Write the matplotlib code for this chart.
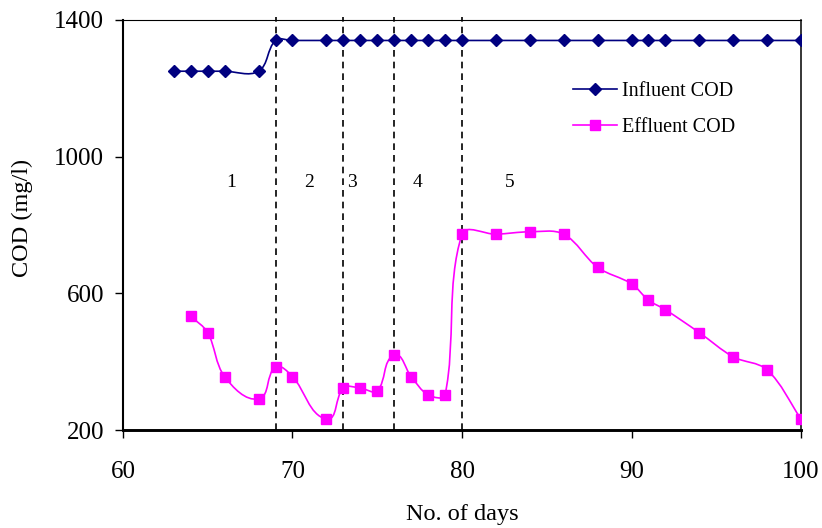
import matplotlib
matplotlib.use("Agg")
import matplotlib.pyplot as plt
import numpy as np
from matplotlib.path import Path
from matplotlib.patches import PathPatch
from matplotlib.lines import Line2D

plt.rcParams["font.family"] = ["Liberation Serif", "DejaVu Serif"]

# influent COD (mg/l) by day
influent_days = [63, 64, 65, 66, 68, 69, 70, 72, 73, 74, 75, 76, 77, 78, 79, 80,
                 82, 84, 86, 88, 90, 91, 92, 94, 96, 98, 100]
influent_cod = [1250, 1250, 1250, 1250, 1250, 1340, 1340, 1340, 1340, 1340, 1340,
                1340, 1340, 1340, 1340, 1340, 1340, 1340, 1340, 1340, 1340, 1340,
                1340, 1340, 1340, 1340, 1340]

# effluent COD (mg/l) by day
effluent_days = [64, 65, 66, 68, 69, 70, 72, 73, 74, 75, 76, 77, 78, 79, 80,
                 82, 84, 86, 88, 90, 91, 92, 94, 96, 98, 100]
effluent_cod = [533, 485, 356, 291, 384, 356, 232, 323, 323, 315, 419, 356, 303, 303,
                773, 773, 780, 773, 676, 628, 580, 552, 485, 414, 376, 232]

# phase boundaries and phase labels
phase_bounds = [69, 73, 76, 80]
phase_labels = ["1", "2", "3", "4", "5"]
phase_label_x = [66.4, 71.0, 73.5, 77.4, 82.8]
phase_label_y = 925


def smooth_path(ax, xs, ys):
    """Excel-like smoothed line, built in pixel space as cubic Beziers."""
    pts = ax.transData.transform(np.column_stack([xs, ys]).astype(float))
    n = len(pts)
    verts = [pts[0]]
    codes = [Path.MOVETO]
    tangents = []
    for i in range(n):
        p0 = pts[i - 1] if i > 0 else pts[i]
        p2 = pts[i + 1] if i + 1 < n else pts[i]
        d = p2 - p0
        tangents.append(d / np.hypot(*d))
    for i in range(n - 1):
        p1, p2 = pts[i], pts[i + 1]
        seg = np.hypot(*(p2 - p1)) / 3.0
        verts += [p1 + tangents[i] * seg, p2 - tangents[i + 1] * seg, p2]
        codes += [Path.CURVE4] * 3
    data = ax.transData.inverted().transform(np.array(verts))
    return Path(data, codes)


fig = plt.figure(figsize=(8.22, 5.28), dpi=100)
ax = fig.add_axes([0.1496, 0.1856, 0.8249, 0.7766])
ax.set_xlim(60, 100)
ax.set_ylim(200, 1400)

navy = "#000080"
magenta = "#FF00FF"

ax.add_patch(PathPatch(smooth_path(ax, influent_days, influent_cod), fill=False,
                       edgecolor=navy, lw=1.2, zorder=3))
ax.plot(influent_days, influent_cod, ls="none", marker="D", ms=6.2,
        color=navy, zorder=4)

ax.add_patch(PathPatch(smooth_path(ax, effluent_days, effluent_cod), fill=False,
                       edgecolor=magenta, lw=1.2, zorder=3))
ax.plot(effluent_days, effluent_cod, ls="none", marker="s", ms=6.8,
        color=magenta, zorder=4)

ax.vlines(phase_bounds, 200, 1410, colors="black", linestyles=(0, (4, 3)),
          lw=1.2, clip_on=False, zorder=2)

for lx, lab in zip(phase_label_x, phase_labels):
    ax.text(lx, phase_label_y, lab, ha="center", va="center", fontsize=14)

ax.set_xticks([60, 70, 80, 90, 100])
ax.set_yticks([200, 600, 1000, 1400])

ax.tick_params(axis="both", direction="out", length=5.5, width=1.0,
               labelsize=18, top=False, right=False)
ax.tick_params(axis="x", pad=17)
ax.tick_params(axis="y", pad=8)

ax.spines["left"].set_linewidth(1.5)
ax.spines["bottom"].set_linewidth(2.1)
ax.spines["top"].set_linewidth(0.8)
ax.spines["right"].set_linewidth(1.1)

ax.set_xlabel("No. of days", fontsize=17.5, labelpad=15)
ax.set_ylabel("COD (mg/l)", fontsize=17.5)
ax.yaxis.set_label_coords(-0.133, 0.517)

handles = [
    Line2D([], [], color=navy, lw=1.2, marker="D", ms=6.2),
    Line2D([], [], color=magenta, lw=1.2, marker="s", ms=6.8),
]
ax.legend(handles, ["Influent COD", "Effluent COD"], loc="center left",
          bbox_to_anchor=(0.6637, 0.781), frameon=False, fontsize=14.5,
          borderpad=0, borderaxespad=0, handlelength=2.2, handletextpad=0.25,
          labelspacing=0.85)

fig.savefig("out.png", dpi=100)
